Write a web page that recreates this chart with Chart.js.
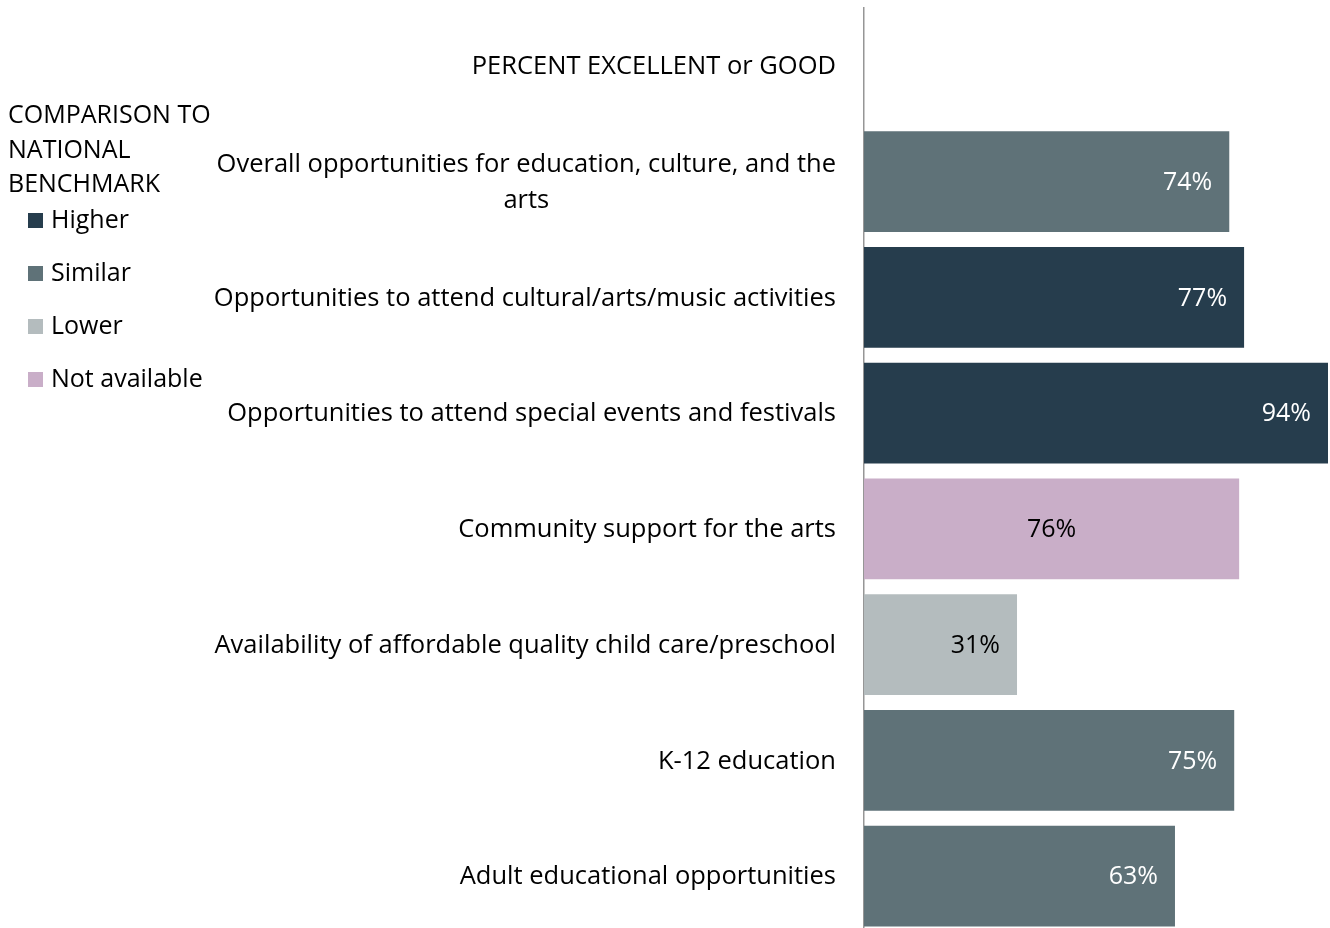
<!DOCTYPE html>
<html>
<head>
<meta charset="utf-8">
<script src="https://cdn.jsdelivr.net/npm/chart.js@4.4.1/dist/chart.umd.min.js"></script>
<style>
  html, body { margin: 0; padding: 0; background: #fff; overflow: hidden; }
  #wrap { position: relative; width: 1330px; height: 934px; }
  #legend { position: absolute; left: 8px; top: 96px; font-family: "Open Sans", sans-serif; font-size: 25px; color: #000; }
  #legend .title { line-height: 34.5px; white-space: nowrap; }
  #legend .item { height: 53px; line-height: 53px; margin-left: 20px; margin-top: -8px; margin-bottom: 8px; white-space: nowrap; }
  #legend .box { display: inline-block; width: 15px; height: 15px; margin-right: 8px; vertical-align: 0px; }
</style>
</head>
<body>
<div id="wrap">
  <canvas id="grafico"></canvas>
  <div id="legend"></div>
</div>
<script>
const ctx = document.getElementById('grafico');

const categories = [
    ['PERCENT EXCELLENT or GOOD'],
    ['Overall opportunities for education, culture, and the', 'arts'],
    ['Opportunities to attend cultural/arts/music activities'],
    ['Opportunities to attend special events and festivals'],
    ['Community support for the arts'],
    ['Availability of affordable quality child care/preschool'],
    ['K-12 education'],
    ['Adult educational opportunities']
]
const values = [null, 74, 77, 94, 76, 31, 75, 63]
const benchmark = [null, 'Similar', 'Higher', 'Higher', 'Not available', 'Lower', 'Similar', 'Similar']

const legendTitle = ['COMPARISON TO', 'NATIONAL', 'BENCHMARK']
const groups = ['Higher', 'Similar', 'Lower', 'Not available']
const groupColors = ['#263d4d', '#5f7278', '#b4bcbe', '#c9aec8']
const labelColors = ['#ffffff', '#ffffff', '#000000', '#000000']

const FONT = '"Open Sans", sans-serif'

// one dataset per benchmark group, stacked so bars keep full height
let datasets = groups.map(function (g, i) {
    return {
        label: g,
        data: values.map(function (v, k) { return benchmark[k] === g ? v : null }),
        backgroundColor: groupColors[i],
        borderWidth: 0
    }
})

const labelsPlugin = {
    id: 'labelsPlugin',
    afterDraw(chart) {
        const c = chart.ctx
        const y = chart.scales.y
        const left = chart.chartArea.left
        c.save()
        c.font = '25.5px ' + FONT
        c.textBaseline = 'middle'
        c.fillStyle = '#000'
        // category labels: block right-aligned, lines centered in block
        categories.forEach(function (lines, i) {
            const cy = y.getPixelForValue(i)
            let w = 0
            lines.forEach(function (l) { w = Math.max(w, c.measureText(l).width) })
            const right = left - 28
            const mid = right - w / 2
            const lh = 36
            c.textAlign = 'center'
            lines.forEach(function (l, j) {
                c.fillText(l, mid, cy + (j - (lines.length - 1) / 2) * lh + 1)
            })
        })
        // value labels
        c.font = '25px ' + FONT
        chart.data.datasets.forEach(function (ds, di) {
            const meta = chart.getDatasetMeta(di)
            meta.data.forEach(function (bar, k) {
                const v = ds.data[k]
                if (v === null || v === undefined) return
                c.fillStyle = labelColors[di]
                if (ds.label === 'Not available') {
                    c.textAlign = 'center'
                    c.fillText(v + '%', (bar.base + bar.x) / 2, bar.y + 1)
                } else {
                    c.textAlign = 'right'
                    c.fillText(v + '%', bar.x - 17, bar.y + 1)
                }
            })
        })
        c.restore()
    }
}

new Chart(ctx, {
    type: 'bar',
    data: {
        labels: categories.map(function (l) { return l.join(' ') }),
        datasets: datasets
    },
    options: {
        indexAxis: 'y',
        responsive: true,
        maintainAspectRatio: false,
        animation: false,
        events: [],
        layout: { padding: { top: 8, right: 2, bottom: 0, left: 0 } },
        datasets: { bar: { categoryPercentage: 0.87, barPercentage: 1 } },
        plugins: {
            legend: { display: false },
            tooltip: { enabled: false }
        },
        scales: {
            x: {
                stacked: true,
                display: false,
                min: 0,
                max: 94
            },
            y: {
                stacked: true,
                grid: { display: false },
                border: { display: true, color: '#969696', width: 1.5 },
                ticks: { display: false },
                afterFit(scale) { scale.width = 864 }
            }
        }
    },
    plugins: [labelsPlugin]
});

// legend built from the same arrays
const lg = document.getElementById('legend')
let html = '<div class="title">' + legendTitle.join('<br>') + '</div>'
groups.forEach(function (g, i) {
    html += '<div class="item"><span class="box" style="background:' + groupColors[i] + '"></span>' + g + '</div>'
})
lg.innerHTML = html
</script>
</body>
</html>
